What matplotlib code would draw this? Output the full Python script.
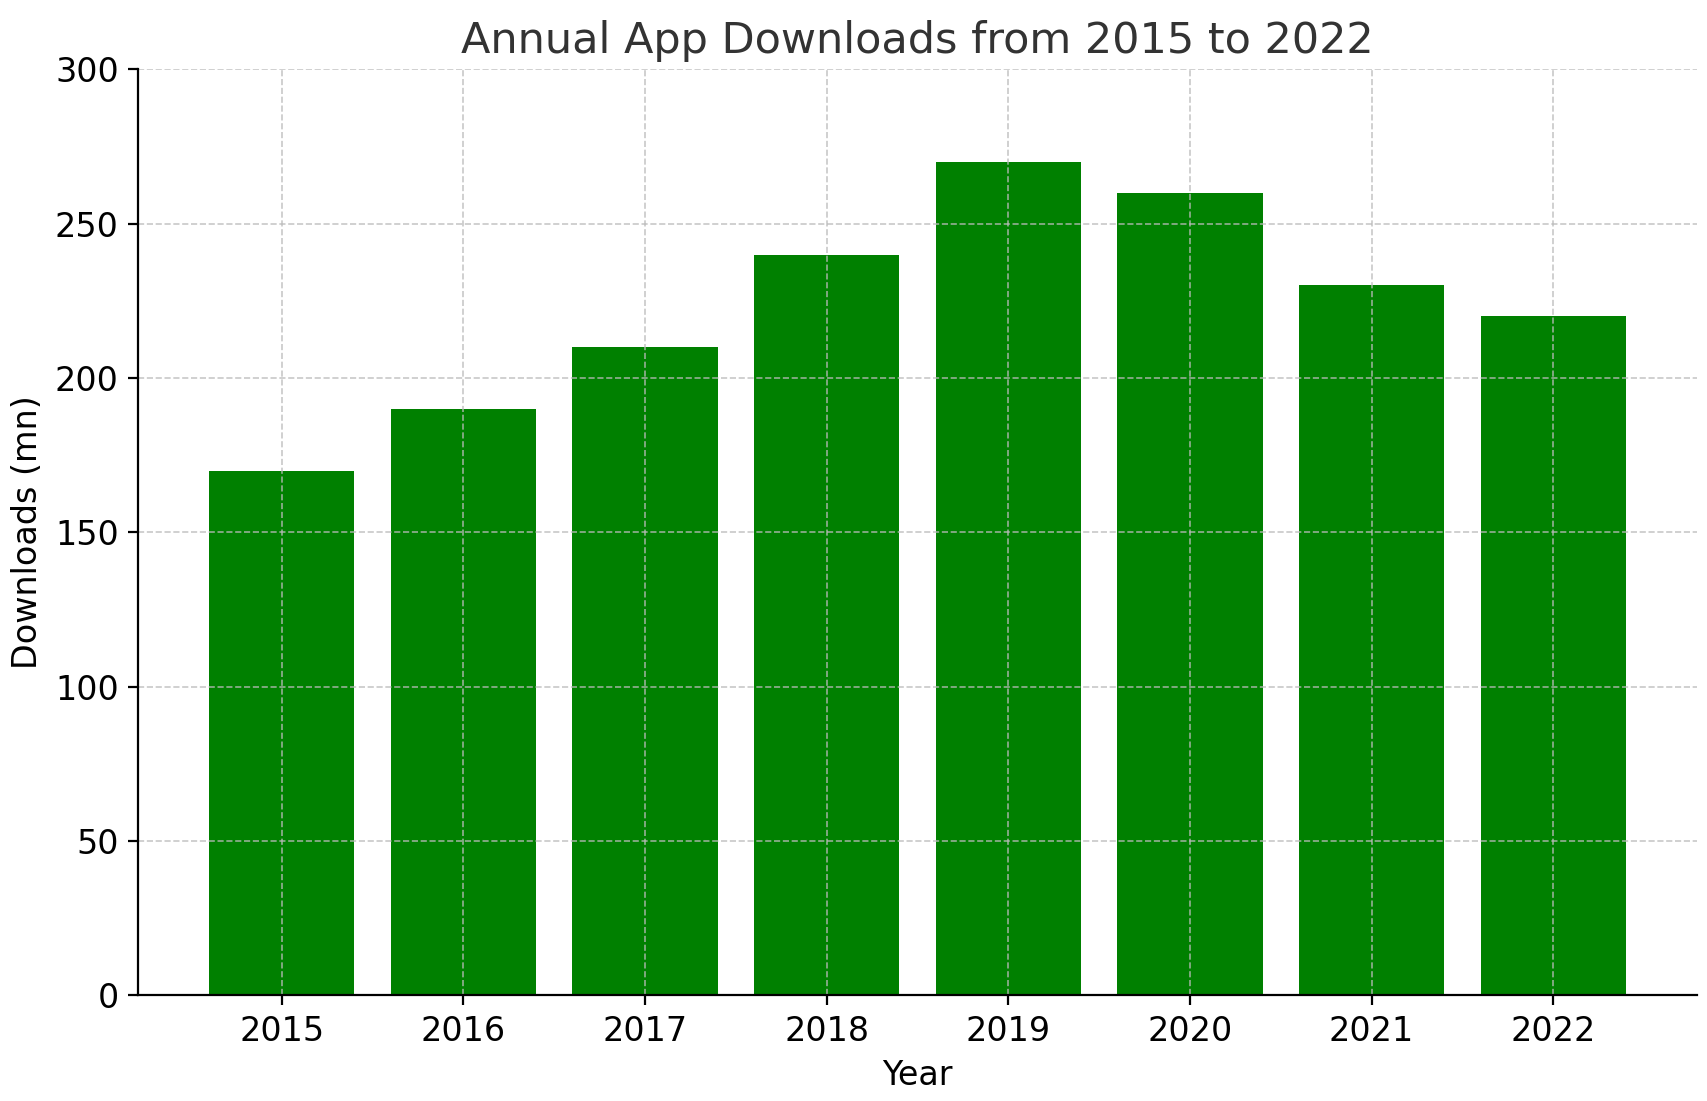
import matplotlib
matplotlib.use("Agg")
import matplotlib.pyplot as plt

years = ["2015", "2016", "2017", "2018", "2019", "2020", "2021", "2022"]
downloads = [170, 190, 210, 240, 270, 260, 230, 220]

fig, ax = plt.subplots(figsize=(8.535, 5.505), dpi=200)
ax.bar(years, downloads, color="green", width=0.8)
ax.set_ylim(0, 300)
ax.set_title("Annual App Downloads from 2015 to 2022", fontsize=15.5, color="#333333")
ax.set_xlabel("Year", fontsize=12)
ax.set_ylabel("Downloads (mn)", fontsize=12)
ax.tick_params(labelsize=12)
ax.grid(True, linestyle="--", linewidth=0.6, color="#bbbbbb", alpha=0.8)
ax.spines["top"].set_visible(False)
ax.spines["right"].set_visible(False)
fig.subplots_adjust(left=0.081, right=0.994, top=0.937, bottom=0.096)
fig.savefig("out.png", dpi=200)
